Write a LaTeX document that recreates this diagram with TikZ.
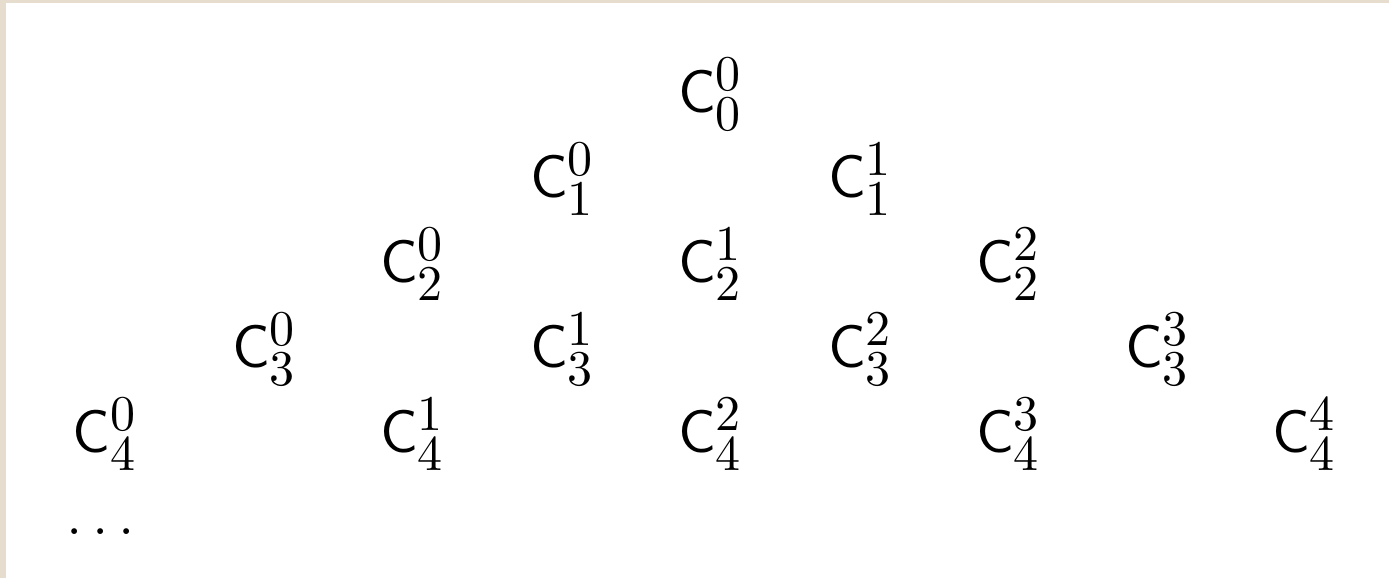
\documentclass[tikz,border=0pt]{standalone}
\DeclareMathSizes{13}{13}{10}{7}
\definecolor{frame}{HTML}{E6DDCF}
\tikzset{
  entry/.style={inner sep=0pt, outer sep=0pt, anchor=base west, font=\fontsize{13}{15}\selectfont}
}
\begin{document}
\begin{tikzpicture}[x=0.2pt,y=-0.2pt]
\useasboundingbox (0,0) rectangle (1389,578);
\fill[white] (0,0) rectangle (1389,578);
\fill[frame] (0,0) rectangle (1389,3);
\fill[frame] (0,0) rectangle (6,578);
% row 0
\node[entry] (c00) at (678,112) {$\mathsf{C}_0^0$};
% row 1
\node[entry] (c10) at (530,197) {$\mathsf{C}_1^0$};
\node[entry] (c11) at (828,197) {$\mathsf{C}_1^1$};
% row 2
\node[entry] (c20) at (380,282) {$\mathsf{C}_2^0$};
\node[entry] (c21) at (678,282) {$\mathsf{C}_2^1$};
\node[entry] (c22) at (976,282) {$\mathsf{C}_2^2$};
% row 3
\node[entry] (c30) at (232,367) {$\mathsf{C}_3^0$};
\node[entry] (c31) at (530,367) {$\mathsf{C}_3^1$};
\node[entry] (c32) at (828,367) {$\mathsf{C}_3^2$};
\node[entry] (c33) at (1125,367) {$\mathsf{C}_3^3$};
% row 4
\node[entry] (c40) at (73,452) {$\mathsf{C}_4^0$};
\node[entry] (c41) at (380,452) {$\mathsf{C}_4^1$};
\node[entry] (c42) at (678,452) {$\mathsf{C}_4^2$};
\node[entry] (c43) at (976,452) {$\mathsf{C}_4^3$};
\node[entry] (c44) at (1272,452) {$\mathsf{C}_4^4$};
% dots
\node[entry] (dots) at (66,534) {$\ldots$};
\end{tikzpicture}
\end{document}
